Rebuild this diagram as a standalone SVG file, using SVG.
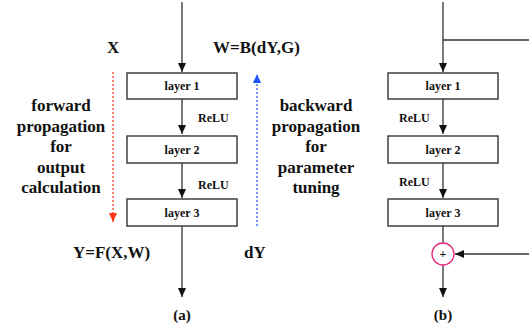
<svg xmlns="http://www.w3.org/2000/svg" width="529" height="328" viewBox="0 0 529 328">
<style>
text{font-family:"Liberation Serif","Times New Roman",serif;font-weight:bold;fill:#111}
.box{fill:#fff;stroke:#333;stroke-width:1.4}
.ln{stroke:#333;stroke-width:1.3;fill:none}
.lbl{font-size:12px;text-anchor:middle}
.relu{font-size:12px}
.big{font-size:17px}
.mid{text-anchor:middle}
</style>
<defs>
<marker id="ah" markerWidth="10" markerHeight="10" refX="9" refY="4" orient="auto" markerUnits="userSpaceOnUse">
<path d="M0,0 L9,4 L0,8 Z" fill="#111"/>
</marker>
<marker id="ahr" markerWidth="10" markerHeight="10" refX="9" refY="4" orient="auto" markerUnits="userSpaceOnUse">
<path d="M0,0 L9,4 L0,8 Z" fill="#ff3311"/>
</marker>
<marker id="ahb" markerWidth="10" markerHeight="10" refX="9" refY="4" orient="auto" markerUnits="userSpaceOnUse">
<path d="M0,0 L9,4 L0,8 Z" fill="#1f4fff"/>
</marker>
</defs>
<g id="connectors">
<line class="ln" x1="182" y1="2" x2="182" y2="72" marker-end="url(#ah)"/>
<line class="ln" x1="182" y1="99" x2="182" y2="134" marker-end="url(#ah)"/>
<line class="ln" x1="182" y1="163" x2="182" y2="198" marker-end="url(#ah)"/>
<line class="ln" x1="182" y1="226" x2="182" y2="297" marker-end="url(#ah)"/>
<line x1="113" y1="72" x2="113" y2="222" stroke="#ff3311" stroke-width="1.2" stroke-dasharray="2,2" marker-end="url(#ahr)"/>
<line x1="257" y1="226" x2="257" y2="74" stroke="#1f4fff" stroke-width="1.2" stroke-dasharray="2,2" marker-end="url(#ahb)"/>
<line class="ln" x1="443" y1="2" x2="443" y2="72" marker-end="url(#ah)"/>
<line class="ln" x1="443" y1="40" x2="529" y2="40"/>
<line class="ln" x1="443" y1="99" x2="443" y2="134" marker-end="url(#ah)"/>
<line class="ln" x1="443" y1="163" x2="443" y2="198" marker-end="url(#ah)"/>
<line class="ln" x1="443" y1="226" x2="443" y2="243"/>
<line class="ln" x1="443" y1="265" x2="443" y2="297" marker-end="url(#ah)"/>
<line class="ln" x1="529" y1="254" x2="455" y2="254" marker-end="url(#ah)"/>
</g>
<g id="a-layer1"><rect class="box" x="127" y="73" width="110" height="26"/><text class="lbl" x="182" y="90">layer 1</text></g>
<g id="a-layer2"><rect class="box" x="127" y="136" width="110" height="27"/><text class="lbl" x="182" y="154">layer 2</text></g>
<g id="a-layer3"><rect class="box" x="127" y="199" width="110" height="27"/><text class="lbl" x="182" y="217">layer 3</text></g>
<g id="b-layer1"><rect class="box" x="388" y="73" width="110" height="26"/><text class="lbl" x="443" y="90">layer 1</text></g>
<g id="b-layer2"><rect class="box" x="388" y="136" width="110" height="27"/><text class="lbl" x="443" y="154">layer 2</text></g>
<g id="b-layer3"><rect class="box" x="388" y="199" width="110" height="27"/><text class="lbl" x="443" y="217">layer 3</text></g>
<g id="b-plus"><circle cx="443" cy="254" r="11" fill="#fff" stroke="#e8287c" stroke-width="1.3"/><text x="443" y="258" font-size="12px" text-anchor="middle">+</text></g>
<g id="labels">
<text class="relu" x="198" y="122">ReLU</text>
<text class="relu" x="198" y="189">ReLU</text>
<text class="relu" x="399" y="122">ReLU</text>
<text class="relu" x="399" y="186">ReLU</text>
<text class="big" x="107" y="53">X</text>
<text class="big" x="213" y="53">W=B(dY,G)</text>
<text class="big" x="73" y="258">Y=F(X,W)</text>
<text class="big" x="244" y="258">dY</text>
<text class="big mid" x="61" y="111">forward</text>
<text class="big mid" x="61" y="131.5">propagation</text>
<text class="big mid" x="61" y="152">for</text>
<text class="big mid" x="61" y="172.5">output</text>
<text class="big mid" x="61" y="193">calculation</text>
<text class="big mid" x="316" y="111">backward</text>
<text class="big mid" x="316" y="131.5">propagation</text>
<text class="big mid" x="316" y="152">for</text>
<text class="big mid" x="316" y="172.5">parameter</text>
<text class="big mid" x="316" y="193">tuning</text>
<text class="mid" x="182" y="320" font-size="15px">(a)</text>
<text class="mid" x="443" y="320" font-size="15px">(b)</text>
</g>
</svg>
